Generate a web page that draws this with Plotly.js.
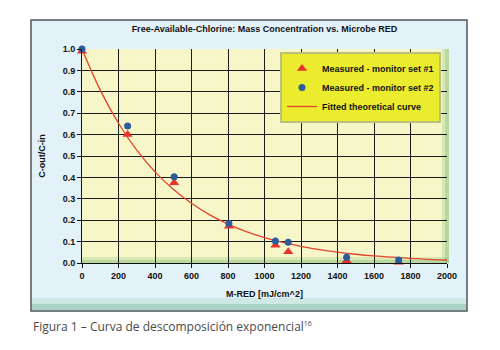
<!DOCTYPE html>
<html>
<head>
<meta charset="utf-8">
<script src="https://cdn.plot.ly/plotly-3.0.1.min.js"></script>
<style>html,body{margin:0;padding:0;background:#fff;}#chart{width:500px;height:350px;}</style>
</head>
<body>
<div id="chart"></div>
<script>
// Measured values
var doseSet1 = [0, 250, 505, 805, 1060, 1130, 1450, 1735];
var ratioSet1 = [0.99, 0.60, 0.375, 0.172, 0.083, 0.052, 0.010, 0.004];
var doseSet2 = [0, 250, 505, 805, 1060, 1130, 1450, 1735];
var ratioSet2 = [1.0, 0.64, 0.403, 0.185, 0.103, 0.097, 0.027, 0.014];
// Fitted curve
var doseFit = [0, 100, 200, 300, 400, 500, 600, 700, 800, 900, 1000, 1100, 1200, 1300, 1400, 1500, 1600, 1700, 1800, 1900, 2000];
var ratioFit = [1.0, 0.808, 0.653, 0.527, 0.426, 0.345, 0.279, 0.225, 0.182, 0.147, 0.119, 0.096, 0.078, 0.063, 0.051, 0.041, 0.033, 0.027, 0.022, 0.017, 0.014];
var xTicks = [0, 200, 400, 600, 800, 1000, 1200, 1400, 1600, 1800, 2000];
var yTicks = [0, 0.1, 0.2, 0.3, 0.4, 0.5, 0.6, 0.7, 0.8, 0.9, 1.0];
var yTickText = ['0.0', '0.1', '0.2', '0.3', '0.4', '0.5', '0.6', '0.7', '0.8', '0.9', '1.0'];
var seriesNames = ['Measured - monitor set #1', 'Measured - monitor set #2', 'Fitted theoretical curve'];

var F = {family: 'Liberation Sans, Arial, sans-serif', size: 9, color: '#111'};

var traces = [
  {x: doseFit, y: ratioFit, type: 'scatter', mode: 'lines', name: seriesNames[2],
   line: {color: '#E2452F', width: 1.3, shape: 'spline'}, legendrank: 3, cliponaxis: false},
  {x: doseSet1, y: ratioSet1, type: 'scatter', mode: 'markers', name: seriesNames[0],
   marker: {symbol: 'triangle-up', size: 9, color: '#E8342A'}, legendrank: 1, cliponaxis: false},
  {x: doseSet2, y: ratioSet2, type: 'scatter', mode: 'markers', name: seriesNames[1],
   marker: {symbol: 'circle', size: 7, color: '#2D5C9C'}, legendrank: 2, cliponaxis: false}
];

// plot area px: x 82..447, y 49..263
var pw = 365, ph = 214;
function px(v){return (v-82)/pw;}
function py(v){return (263-v)/ph;}

var shapes = [
  // outer frame
  {type:'rect', xref:'paper', yref:'paper', x0:px(31), x1:px(467), y0:py(311), y1:py(20),
   fillcolor:'#E3F2F9', line:{color:'#4E555B', width:1.5}, layer:'below'},
  // frame bottom greenish fade
  {type:'rect', xref:'paper', yref:'paper', x0:px(32), x1:px(466), y0:py(310), y1:py(298),
   fillcolor:'rgba(160,210,180,0.3)', line:{width:0}, layer:'below'},
  {type:'rect', xref:'paper', yref:'paper', x0:px(32), x1:px(466), y0:py(310), y1:py(304),
   fillcolor:'rgba(120,180,150,0.4)', line:{width:0}, layer:'below'},
  // plot area
  {type:'rect', xref:'paper', yref:'paper', x0:0, x1:px(449), y0:0, y1:1,
   fillcolor:'#F7F6C8', line:{width:0}, layer:'below'},
  // green fringes
  {type:'rect', xref:'paper', yref:'paper', x0:0, x1:px(449), y0:0, y1:py(257),
   fillcolor:'rgba(170,210,150,0.4)', line:{width:0}, layer:'below'},
  {type:'rect', xref:'paper', yref:'paper', x0:0, x1:px(449), y0:0, y1:py(260),
   fillcolor:'rgba(140,195,130,0.4)', line:{width:0}, layer:'below'},
  {type:'rect', xref:'paper', yref:'paper', x0:px(442), x1:px(449), y0:0, y1:1,
   fillcolor:'rgba(170,210,150,0.4)', line:{width:0}, layer:'below'},
  {type:'rect', xref:'paper', yref:'paper', x0:px(445), x1:px(449), y0:0, y1:1,
   fillcolor:'rgba(140,195,130,0.4)', line:{width:0}, layer:'below'}
];

var layout = {
  width: 500, height: 350,
  margin: {l: 82, r: 53, t: 49, b: 87},
  paper_bgcolor: '#FFFFFF',
  plot_bgcolor: 'rgba(0,0,0,0)',
  title: {text: '<b>Free-Available-Chlorine: Mass Concentration vs. Microbe RED</b>',
          font: {family: F.family, size: 9, color: '#111'},
          x: 0.529, xanchor: 'center', y: 1 - 29/350, yanchor: 'middle'},
  xaxis: {range: [0, 2000], tickvals: xTicks, ticktext: xTicks.map(function(v){return '<b>'+v+'</b>';}),
          showgrid: true, gridcolor: '#1a1a1a', gridwidth: 1, zeroline: false,
          showline: true, linecolor: '#111', linewidth: 1,
          ticks: 'outside', ticklen: 4, tickcolor: '#111', tickfont: F,
          title: {text: '<b>M-RED [mJ/cm^2]</b>', font: F, standoff: 10}},
  yaxis: {range: [0, 1], tickvals: yTicks, ticktext: yTickText.map(function(v){return '<b>'+v+'</b>';}),
          showgrid: true, gridcolor: '#1a1a1a', gridwidth: 1, zeroline: false,
          showline: true, linecolor: '#111', linewidth: 1,
          ticks: 'outside', ticklen: 4, tickcolor: '#111', tickfont: F,
          title: {text: '<b>C-out/C-in</b>', font: F, standoff: 15}},
  legend: {x: px(280), xanchor: 'left', y: py(52), yanchor: 'top',
           bgcolor: '#ECEC2E', bordercolor: '#B9C07A', borderwidth: 2,
           font: {family: F.family, size: 9, color: '#111'}, itemwidth: 30,
           tracegroupgap: 0},
  showlegend: true,
  shapes: shapes,
  annotations: [
    {xref: 'paper', yref: 'paper', x: px(31), y: py(326), xanchor: 'left', yanchor: 'middle',
     showarrow: false, text: 'Figura 1 – Curva de descomposición exponencial<sup><span style="font-size:7px">16</span></sup>',
     font: {family: 'Open Sans, sans-serif', size: 12, color: '#4a4a4a'}}
  ]
};

// bold legend labels
traces.forEach(function(t){ t.name = '<b>' + t.name + '</b>'; });

Plotly.newPlot('chart', traces, layout, {staticPlot: true, displayModeBar: false});
</script>
</body>
</html>
